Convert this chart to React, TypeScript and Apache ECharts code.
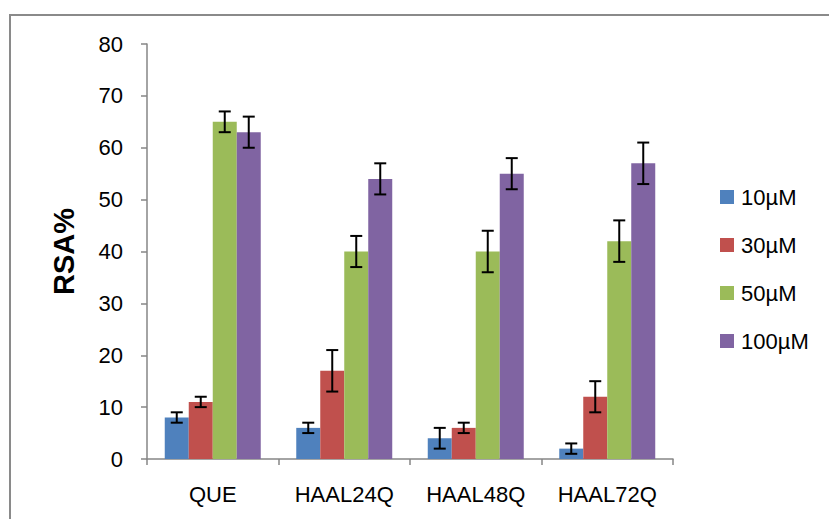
import React, { useEffect, useRef } from "react";
import * as echarts from "echarts";

// Compounds on the category axis
const categories = ["QUE", "HAAL24Q", "HAAL48Q", "HAAL72Q"];

// Concentration groups (legend entries)
const seriesNames = ["10µM", "30µM", "50µM", "100µM"];
const seriesColors = ["#4F81BD", "#C0504D", "#9BBB59", "#8064A2"];

// RSA% per concentration, one value per compound
const rsa10 = [8, 6, 4, 2];
const rsa30 = [11, 17, 6, 12];
const rsa50 = [65, 40, 40, 42];
const rsa100 = [63, 54, 55, 57];

// Standard deviation (error bar half-lengths)
const err10 = [1, 1, 2, 1];
const err30 = [1, 4, 1, 3];
const err50 = [2, 3, 4, 4];
const err100 = [3, 3, 3, 4];

const yTicks = [0, 10, 20, 30, 40, 50, 60, 70, 80];

const FONT = "Liberation Sans, Arial, sans-serif";
const GAP_RATIO = 0.27;

export default function App() {
  const ref = useRef<HTMLDivElement>(null);

  useEffect(() => {
    if (!ref.current) return;
    const chart = echarts.init(ref.current, null, { renderer: "svg" });

    const values = [rsa10, rsa30, rsa50, rsa100];
    const errors = [err10, err30, err50, err100];

    const errData: number[][] = [];
    values.forEach((vals, s) => {
      vals.forEach((v, c) => {
        errData.push([c, v, errors[s][c], s]);
      });
    });

    const barSeries = seriesNames.map((name, i) => ({
      name,
      type: "bar",
      data: values[i],
      barGap: "0%",
      barCategoryGap: GAP_RATIO * 100 + "%",
      itemStyle: { color: seriesColors[i] },
      z: 2,
    }));

    const errorSeries = {
      type: "custom",
      name: "error",
      data: errData,
      z: 5,
      silent: true,
      encode: { x: 0, y: [1] },
      renderItem: (params: any, api: any) => {
        const c = api.value(0);
        const v = api.value(1);
        const e = api.value(2);
        const s = api.value(3);
        const band = api.size([1, 0])[0];
        const barW = (band * (1 - GAP_RATIO)) / 4;
        const center = api.coord([c, v]);
        const x = center[0] + (s - 1.5) * barW;
        const top = api.coord([c, v + e])[1];
        const bot = api.coord([c, v - e])[1];
        const half = 6;
        const style = { stroke: "#000", lineWidth: 2 };
        return {
          type: "group",
          children: [
            { type: "line", shape: { x1: x, y1: top, x2: x, y2: bot }, style },
            { type: "line", shape: { x1: x - half, y1: top, x2: x + half, y2: top }, style },
            { type: "line", shape: { x1: x - half, y1: bot, x2: x + half, y2: bot }, style },
          ],
        };
      },
    };

    chart.setOption({
      animation: false,
      backgroundColor: "#ffffff",
      textStyle: { fontFamily: FONT },
      grid: { left: 147, right: 156, top: 44, bottom: 60, outerBoundsMode: "none" },
      legend: {
        data: seriesNames,
        orient: "vertical",
        left: 715,
        top: 180,
        itemWidth: 14,
        itemHeight: 14,
        itemGap: 24,
        icon: "rect",
        textStyle: { fontSize: 22, color: "#000", fontFamily: FONT, lineHeight: 24, padding: [0, 0, 0, 2] },
      },
      xAxis: {
        type: "category",
        data: categories,
        axisLine: { lineStyle: { color: "#868686", width: 1.5 } },
        axisTick: { show: true, length: 6, lineStyle: { color: "#868686", width: 1.5 } },
        axisLabel: { fontSize: 22, color: "#000", margin: 24, fontFamily: FONT, interval: 0, hideOverlap: false },
      },
      yAxis: {
        type: "value",
        min: yTicks[0],
        max: yTicks[yTicks.length - 1],
        interval: 10,
        name: "RSA%",
        nameLocation: "middle",
        nameRotate: 90,
        nameGap: 69,
        nameTextStyle: { fontSize: 29, fontWeight: "bold", color: "#000", fontFamily: FONT },
        axisLine: { show: true, lineStyle: { color: "#868686", width: 1.5 } },
        axisTick: { show: true, length: 6, lineStyle: { color: "#868686", width: 1.5 } },
        splitLine: { show: false },
        axisLabel: { fontSize: 22, color: "#000", margin: 24, fontFamily: FONT },
      },
      graphic: [
        {
          type: "rect",
          shape: { x: 10, y: 15, width: 840, height: 540 },
          style: { fill: "none", stroke: "#8a8a8a", lineWidth: 2 },
          silent: true,
          z: -1,
        },
      ],
      series: [...barSeries, errorSeries],
    });

    return () => chart.dispose();
  }, []);

  return (
    <div
      ref={ref}
      style={{ position: "fixed", left: 0, top: 0, width: 829, height: 519 }}
    />
  );
}
